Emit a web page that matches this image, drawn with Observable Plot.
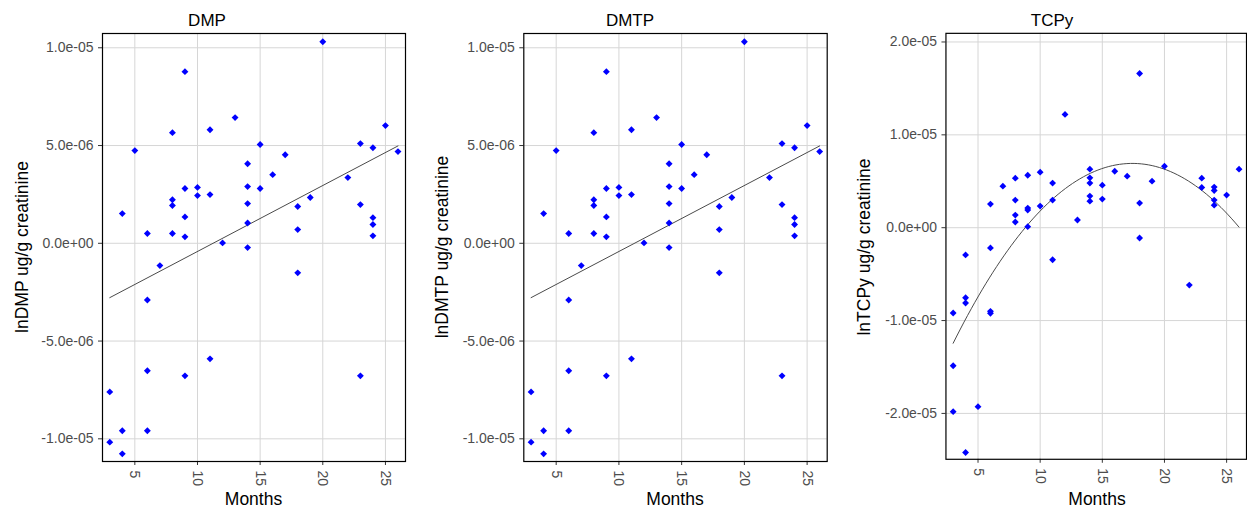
<!DOCTYPE html>
<html><head><meta charset="utf-8">
<script src="https://cdn.jsdelivr.net/npm/d3@7"></script>
<script src="https://cdn.jsdelivr.net/npm/@observablehq/plot@0.6"></script>
<style>
body{margin:0;width:1247px;height:508px;overflow:hidden;background:#fff;font-family:"Liberation Sans",Arial,sans-serif;position:relative}
.panel{position:absolute;top:0}
.title{position:absolute;top:12.3px;font-size:17px;line-height:1;color:#000;transform:translateX(-50%);white-space:nowrap}
.xlab{position:absolute;top:491px;font-size:17.5px;line-height:1;color:#000;transform:translateX(-50%);white-space:nowrap}
.ylab{position:absolute;font-size:17.5px;line-height:1;color:#000;transform:translate(-50%,-50%) rotate(-90deg);white-space:nowrap}
</style></head>
<body>
<script>
// ---- data (values in units of 1e-6) ----
const dmpMonths = [4,5,6,8,8,8,8,9,9,9,9,10,10,11,11,12,13,14,14,14,14,14,15,15,16,17,18,18,19,20,22,23,23,24,24,24,24,25,26,7,6,18,6,9,11,23,3,4,6,3,4];
const dmpValues = [1.52,4.74,0.50,5.66,2.23,1.93,0.50,8.78,2.80,1.35,0.33,2.86,2.44,5.81,2.49,0.02,6.43,4.07,2.90,2.03,1.04,-0.22,5.05,2.80,3.51,4.53,1.88,0.70,2.34,10.31,3.36,5.10,1.98,4.89,1.31,0.96,0.38,6.02,4.69,-1.14,-2.90,-1.51,-6.52,-6.78,-5.91,-6.78,-7.60,-9.59,-9.59,-10.17,-10.77];
// fitted line (month, value)
const dmpFitMonths = [3, 26];
const dmpFitValues = [-2.78, 4.98];

const dmtpMonths = [4,5,6,8,8,8,8,9,9,9,9,10,10,11,11,12,13,14,14,14,14,14,15,15,16,17,18,18,19,20,22,23,23,24,24,24,24,25,26,7,6,18,6,9,11,23,3,4,6,3,4];
const dmtpValues = [1.52,4.74,0.50,5.66,2.23,1.93,0.50,8.78,2.80,1.35,0.33,2.86,2.44,5.81,2.49,0.02,6.43,4.07,2.90,2.03,1.04,-0.22,5.05,2.80,3.51,4.53,1.88,0.70,2.34,10.31,3.36,5.10,1.98,4.89,1.31,0.96,0.38,6.02,4.69,-1.14,-2.90,-1.51,-6.52,-6.78,-5.91,-6.78,-7.60,-9.59,-9.59,-10.17,-10.77];
const dmtpFitMonths = [3, 26];
const dmtpFitValues = [-2.78, 4.98];

const tcpyMonths = [18,12,20,26,14,14,14,14,14,10,9,8,7,11,15,15,16,17,19,18,18,23,23,24,24,24,24,25,6,8,8,8,9,9,9,10,11,13,4,6,11,22,4,4,3,6,6,3,3,5,4];
const tcpyValues = [16.6,12.2,6.62,6.30,6.30,5.37,4.80,3.40,2.86,5.98,5.65,5.33,4.47,4.80,4.58,3.08,6.08,5.55,5.01,2.65,-1.11,5.33,4.33,4.37,4.01,2.97,2.43,3.51,2.54,2.97,1.36,0.61,2.11,1.90,0.11,2.33,2.97,0.83,-2.93,-2.18,-3.45,-6.18,-7.54,-8.11,-9.19,-9.01,-9.22,-14.87,-19.81,-19.27,-24.21];

const xTicks = [5,10,15,20,25];
const dmYTicks = [-10,-5,0,5,10];
const dmYLabels = ["-1.0e-05","-5.0e-06","0.0e+00","5.0e-06","1.0e-05"];
const tcYTicks = [-20,-10,0,10,20];
const tcYLabels = ["-2.0e-05","-1.0e-05","0.0e+00","1.0e-05","2.0e-05"];

const titles = ["DMP","DMTP","TCPy"];
const yTitles = ["lnDMP ug/g creatinine","lnDMTP ug/g creatinine","lnTCPy ug/g creatinine"];
const xTitle = "Months";

// quadratic least squares (smooth for TCPy, computed from the points)
function quadFit(xs, ys) {
  let S = [[0,0,0],[0,0,0],[0,0,0]], T = [0,0,0];
  xs.forEach((x,i)=>{const p=[1,x,x*x]; for(let a=0;a<3;a++){T[a]+=p[a]*ys[i]; for(let b=0;b<3;b++) S[a][b]+=p[a]*p[b];}});
  const M = S.map((r,i)=>[...r,T[i]]);
  for(let c=0;c<3;c++){let piv=c; for(let r=c+1;r<3;r++) if(Math.abs(M[r][c])>Math.abs(M[piv][c])) piv=r; [M[c],M[piv]]=[M[piv],M[c]];
    for(let r=0;r<3;r++){ if(r===c) continue; const f=M[r][c]/M[c][c]; for(let k=c;k<4;k++) M[r][k]-=f*M[c][k]; }}
  const co = M.map((r,i)=>r[3]/r[i]);
  return x => co[0]+co[1]*x+co[2]*x*x;
}

function panel({months, values, yDomain, yTicks, yLabels, width, ml, mr, fitM, fitV}) {
  const data = months.map((m,i)=>({m, v: values[i]}));
  const lab = new Map(yTicks.map((t,i)=>[t,yLabels[i]]));
  let fitData;
  if (fitM) {
    fitData = fitM.map((m,i)=>({m, v: fitV[i]}));
  } else {
    const f = quadFit(months, values);
    const [lo, hi] = d3.extent(months);
    fitData = d3.range(80).map(i => { const x = lo + (hi-lo)*i/79; return {m:x, v:f(x)}; });
  }
  return Plot.plot({
    width, height: 508,
    marginTop: 33, marginBottom: 47, marginLeft: ml, marginRight: mr,
    style: {fontFamily: "'Liberation Sans', Arial, sans-serif", background: "transparent", overflow: "visible"},
    x: {domain: [2.42, 26.6]},
    y: {domain: yDomain},
    marks: [
      Plot.gridX(xTicks, {stroke:"#d6d6d6", strokeOpacity:1, strokeWidth:1}),
      Plot.gridY(yTicks, {stroke:"#d6d6d6", strokeOpacity:1, strokeWidth:1}),
      Plot.axisX(xTicks, {tickSize:4, tickPadding:5, tickRotate:90, fontSize:14, fill:"#4d4d4d", stroke:"#333", label:null}),
      Plot.axisY(yTicks, {tickSize:4, tickPadding:5, fontSize:14, fill:"#4d4d4d", stroke:"#333", label:null, tickFormat: d => lab.get(d)}),
      Plot.line(fitData, {x:"m", y:"v", stroke:"#4a4a4a", strokeWidth:1}),
      Plot.dot(data, {x:"m", y:"v", fill:"#0000ff", r:3.1, symbol:"diamond2"}),
      Plot.frame({stroke:"#000", strokeWidth:1.2})
    ]
  });
}

const specs = [
  {left:0, months:dmpMonths, values:dmpValues, fitM:dmpFitMonths, fitV:dmpFitValues, yDomain:[-11.16,10.73], yTicks:dmYTicks, yLabels:dmYLabels, width:415, ml:102, mr:10, tx:207, yx:23, mx:253.5},
  {left:415, months:dmtpMonths, values:dmtpValues, fitM:dmtpFitMonths, fitV:dmtpFitValues, yDomain:[-11.16,10.73], yTicks:dmYTicks, yLabels:dmYLabels, width:416, ml:108.3, mr:4.3, tx:630, yx:443, mx:675},
  {left:831, months:tcpyMonths, values:tcpyValues, fitM:null, fitV:null, yDomain:[-24.94,20.93], yTicks:tcYTicks, yLabels:tcYLabels, width:418, ml:115, mr:1, tx:1052, yx:865, mx:1097}
];

specs.forEach((s,i) => {
  const div = document.createElement("div");
  div.className = "panel";
  div.style.left = s.left + "px";
  div.appendChild(panel(s));
  document.body.appendChild(div);
  const t = document.createElement("div"); t.className="title"; t.textContent = titles[i]; t.style.left = s.tx+"px"; document.body.appendChild(t);
  const yl = document.createElement("div"); yl.className="ylab"; yl.textContent = yTitles[i]; yl.style.left = s.yx+"px"; yl.style.top = "247px"; document.body.appendChild(yl);
  const xl = document.createElement("div"); xl.className="xlab"; xl.textContent = xTitle; xl.style.left = s.mx+"px"; document.body.appendChild(xl);
});
</script>
</body></html>
